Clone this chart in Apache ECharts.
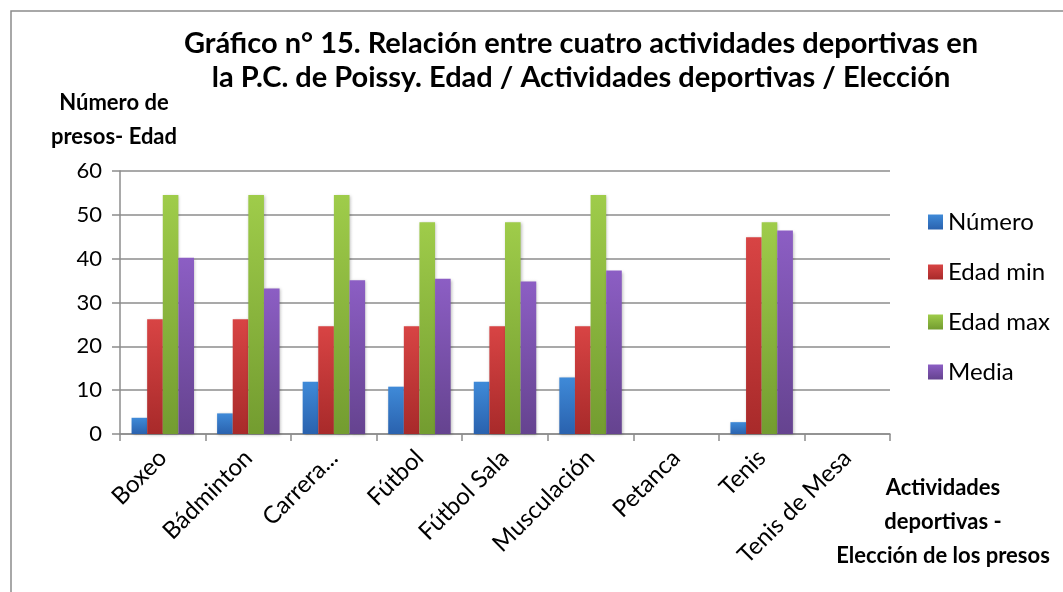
<!DOCTYPE html>
<html>
<head>
<meta charset="utf-8">
<script src="https://cdn.jsdelivr.net/npm/echarts@6/dist/echarts.min.js"></script>
<style>
  html, body { margin: 0; padding: 0; background: #fff; }
  #chart { width: 1063px; height: 592px; }
</style>
</head>
<body>
<div id="chart"></div>
<script>
// data
var categories = ['Boxeo', 'Bádminton', 'Carrera...', 'Fútbol', 'Fútbol Sala', 'Musculación', 'Petanca', 'Tenis', 'Tenis de Mesa']
var numero   = [3.7, 4.7, 11.9, 10.8, 11.9, 12.9, null, 2.7, null]
var edadMin  = [26.2, 26.2, 24.6, 24.6, 24.6, 24.6, null, 44.9, null]
var edadMax  = [54.5, 54.5, 54.5, 48.3, 48.3, 54.5, null, 48.3, null]
var media    = [40.2, 33.2, 35.1, 35.4, 34.8, 37.3, null, 46.4, null]
var yTicks   = [0, 10, 20, 30, 40, 50, 60]

var FONT = 'Lato, "Open Sans", sans-serif'

function grad(top, bottom) {
  return {
    type: 'linear', x: 0, y: 0, x2: 0, y2: 1,
    colorStops: [{ offset: 0, color: top }, { offset: 1, color: bottom }]
  }
}

function bar(name, data, top, bottom) {
  return {
    name: name,
    type: 'bar',
    data: data,
    barGap: '0%',
    barCategoryGap: '27%',
    itemStyle: {
      color: grad(top, bottom),
      shadowColor: 'rgba(0,0,0,0.25)',
      shadowBlur: 3,
      shadowOffsetX: 1,
      shadowOffsetY: 1
    }
  }
}

var chart = echarts.init(document.getElementById('chart'))
chart.setOption({
  animation: false,
  backgroundColor: '#fff',
  textStyle: { fontFamily: FONT },
  graphic: [{
    type: 'rect',
    shape: { x: 11, y: 11, width: 1070, height: 600 },
    style: { fill: 'none', stroke: '#8c8c8c', lineWidth: 1.5 },
    silent: true
  }, {
    type: 'text',
    style: {
      text: 'Gráfico n° 15. Relación entre cuatro actividades deportivas en\nla P.C. de Poissy. Edad / Actividades deportivas / Elección',
      x: 581, y: 27,
      font: 'bold 29px ' + FONT,
      fill: '#000',
      align: 'center',
      lineHeight: 34
    }
  }, {
    type: 'text',
    style: {
      text: 'Número de\npresos- Edad',
      x: 114, y: 86,
      font: 'bold 22px ' + FONT,
      fill: '#000',
      align: 'center',
      lineHeight: 34
    }
  }, {
    type: 'text',
    style: {
      text: 'Actividades\ndeportivas -\nElección de los presos',
      x: 943, y: 471,
      font: 'bold 22px ' + FONT,
      fill: '#000',
      align: 'center',
      lineHeight: 34
    }
  }],
  legend: {
    orient: 'vertical',
    left: 923,
    top: 205,
    itemWidth: 15,
    itemHeight: 15,
    itemGap: 26,
    icon: 'rect',
    textStyle: { fontSize: 24, color: '#000', fontFamily: FONT },
    data: ['Número', 'Edad min', 'Edad max', 'Media']
  },
  grid: { left: 120, right: 173, top: 171, bottom: 158 },
  xAxis: {
    type: 'category',
    data: categories,
    axisLine: { lineStyle: { color: '#8c8c8c', width: 1.5 } },
    axisTick: { show: true, length: 7, lineStyle: { color: '#8c8c8c', width: 1.5 } },
    axisLabel: {
      rotate: 45,
      interval: 0,
      margin: 20,
      fontSize: 24,
      color: '#000',
      fontFamily: FONT
    }
  },
  yAxis: {
    type: 'value',
    min: yTicks[0],
    max: yTicks[yTicks.length - 1],
    interval: 10,
    axisLine: { show: true, lineStyle: { color: '#8c8c8c', width: 1.5 } },
    axisTick: { show: true, length: 8, lineStyle: { color: '#8c8c8c', width: 1.5 } },
    splitLine: { lineStyle: { color: '#8c8c8c', width: 1.5 } },
    axisLabel: { fontSize: 22, color: '#000', margin: 18, fontFamily: FONT }
  },
  series: [
    bar('Número', numero, '#3f8ad8', '#2a62ae'),
    bar('Edad min', edadMin, '#d84444', '#a82a2a'),
    bar('Edad max', edadMax, '#9fcc4a', '#739c30'),
    bar('Media', media, '#8c5ec4', '#65438f')
  ]
})
</script>
</body>
</html>
